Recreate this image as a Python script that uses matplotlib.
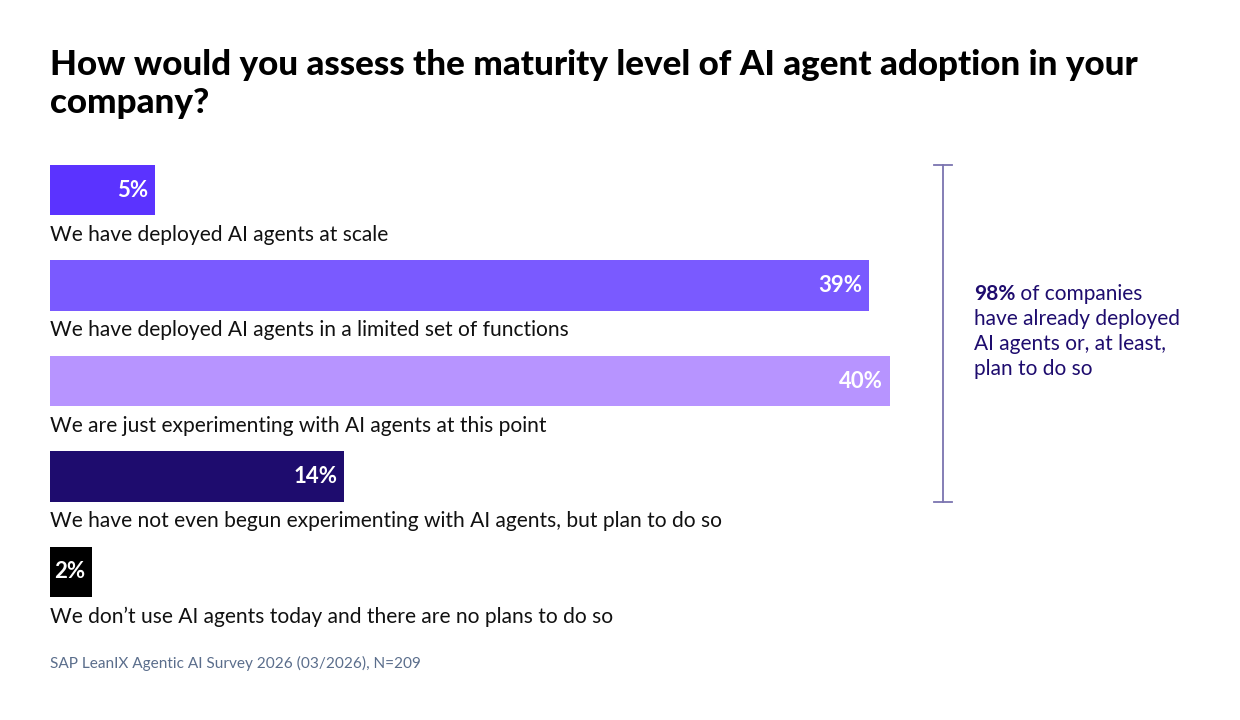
import matplotlib
matplotlib.use("Agg")
import matplotlib.pyplot as plt
import matplotlib.transforms as mtransforms

plt.rcParams["font.family"] = ["Lato", "DejaVu Sans"]

labels = [
    "We have deployed AI agents at scale",
    "We have deployed AI agents in a limited set of functions",
    "We are just experimenting with AI agents at this point",
    "We have not even begun experimenting with AI agents, but plan to do so",
    "We don\u2019t use AI agents today and there are no plans to do so",
]
values = [5, 39, 40, 14, 2]
colors = ["#5B33FF", "#7A5AFF", "#B794FF", "#1E0C6E", "#000000"]

title = "How would you assess the maturity level of AI agent adoption in your\ncompany?"
note_bold = "98%"
note_rest = " of companies"
note_lines = ["have already deployed", "AI agents or, at least,", "plan to do so"]
source = "SAP LeanIX Agentic AI Survey 2026 (03/2026), N=209"

W, H = 1240, 720
fig = plt.figure(figsize=(W / 100, H / 100), dpi=100)
fig.patch.set_facecolor("white")

# axes: x 0..40 maps to 50..890 px, bars span 165..597 px
ax = fig.add_axes([50 / W, (H - 597) / H, 840 / W, 432 / H])
bh = 0.524
ax.barh(range(len(values)), values, height=bh, color=colors)
ax.set_xlim(0, 40)
ax.set_ylim(len(values) - 1 + bh / 2, -bh / 2)
ax.axis("off")

for i, (v, lab) in enumerate(zip(values, labels)):
    ax.annotate(f"{v}%", (v, i), xytext=(-5, 0), textcoords="offset points",
                ha="right", va="center", color="white", fontsize=16,
                fontweight="bold")
    ax.annotate(lab, (0, i + bh / 2), xytext=(0, -7), textcoords="offset points",
                ha="left", va="top", color="#111111", fontsize=15.1)

# bracket spanning the first four bars
tr = mtransforms.blended_transform_factory(fig.transFigure, ax.transData)
bx = 943 / W
tick = 9 / W
y0, y1 = -bh / 2, 3 + bh / 2
bc = "#7B74B0"
ax.plot([bx, bx], [y0, y1], color=bc, lw=1.3, transform=tr, clip_on=False)
for yy in (y0, y1):
    ax.plot([bx - tick, bx + tick], [yy, yy], color=bc, lw=1.3, transform=tr,
            clip_on=False)

nc = "#1E0C6E"
t = fig.text(974 / W, 1 - 294 / H, note_bold, fontsize=15, fontweight="bold",
             color=nc, va="center", ha="left")
fig.canvas.draw()
bb = t.get_window_extent()
fig.text(bb.x1 / W, 1 - 294 / H, note_rest, fontsize=15, color=nc,
         va="center", ha="left")
for k, line in enumerate(note_lines):
    fig.text(974 / W, 1 - (294 + 25 * (k + 1)) / H, line, fontsize=15,
             color=nc, va="center", ha="left")

fig.text(50 / W, 1 - 49 / H, title, fontsize=25.2, fontweight="black",
         color="black", va="top", ha="left", linespacing=1.22)
fig.text(50 / W, 1 - 663 / H, source, fontsize=11.1, color="#5B6E8C",
         va="center", ha="left")

fig.savefig("out.png", dpi=100, facecolor="white")
